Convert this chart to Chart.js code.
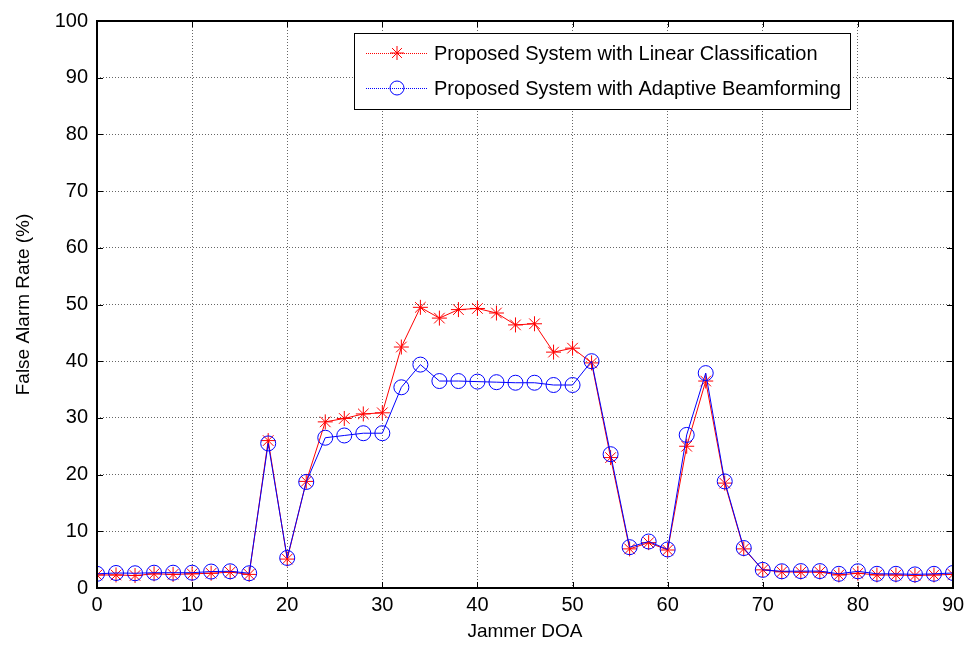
<!DOCTYPE html>
<html>
<head>
<meta charset="utf-8">
<script src="https://cdn.jsdelivr.net/npm/chart.js@4.4.1/dist/chart.umd.min.js"></script>
<style>
  html, body { margin: 0; padding: 0; background: #fff; }
  #wrap { width: 973px; height: 653px; }
</style>
</head>
<body>
<div id="wrap"><canvas id="chart" width="973" height="653"></canvas></div>
<script>
// 재밍 방향별 오경보율
const doa = [0, 2, 4, 6, 8, 10, 12, 14, 16, 18, 20, 22, 24, 26, 28, 30, 32, 34, 36, 38, 40, 42, 44,
  46, 48, 50, 52, 54, 56, 58, 60, 62, 64, 66, 68, 70, 72, 74, 76, 78, 80, 82, 84, 86, 88, 90];

const linearCls = [2.3, 2.3, 2.2, 2.5, 2.4, 2.5, 2.6, 2.8, 2.4, 26.0, 5.1, 18.8, 29.3, 29.9, 30.7, 30.9,
  42.5, 49.5, 47.6, 49.1, 49.3, 48.5, 46.4, 46.6, 41.6, 42.3, 39.7, 23.0, 6.9, 8.0, 6.7, 25.0, 36.5,
  18.5, 6.9, 3.2, 2.85, 2.8, 2.8, 2.3, 2.6, 2.3, 2.3, 2.2, 2.3, 2.4];

const adaptiveBf = [2.5, 2.65, 2.6, 2.7, 2.7, 2.7, 2.9, 2.95, 2.6, 25.5, 5.3, 18.7, 26.5, 26.9, 27.3, 27.3,
  35.4, 39.4, 36.5, 36.5, 36.4, 36.3, 36.2, 36.2, 35.8, 35.8, 40.0, 23.6, 7.2, 8.2, 6.8, 27.0, 37.9,
  18.8, 7.05, 3.2, 2.95, 2.98, 2.98, 2.5, 2.95, 2.5, 2.5, 2.4, 2.5, 2.65];

const xTicks = [0, 10, 20, 30, 40, 50, 60, 70, 80, 90];
const yTicks = [0, 10, 20, 30, 40, 50, 60, 70, 80, 90, 100];

const seriesNames = ['Proposed System with Linear Classification', 'Proposed System with Adaptive Beamforming'];

const FONT = "'Liberation Sans', Arial, sans-serif";
Chart.defaults.font.family = FONT;
Chart.defaults.color = '#000';

const toPoints = (vals) => vals.map((v, i) => ({ x: doa[i], y: v }));

// 테두리 + 안쪽 눈금 + 범례
const framePlugin = {
  id: 'frame',
  afterDraw(chart) {
    const { ctx, chartArea: a, scales } = chart;
    ctx.save();
    ctx.strokeStyle = '#000';
    ctx.lineWidth = 1;
    ctx.beginPath();
    xTicks.forEach((t) => {
      const px = Math.round(scales.x.getPixelForValue(t)) + 0.5;
      ctx.moveTo(px, a.bottom); ctx.lineTo(px, a.bottom - 6);
      ctx.moveTo(px, a.top); ctx.lineTo(px, a.top + 6);
    });
    yTicks.forEach((t) => {
      const py = Math.round(scales.y.getPixelForValue(t)) + 0.5;
      ctx.moveTo(a.left, py); ctx.lineTo(a.left + 6, py);
      ctx.moveTo(a.right, py); ctx.lineTo(a.right - 6, py);
    });
    ctx.stroke();
    ctx.lineWidth = 2;
    ctx.strokeRect(a.left, a.top, a.right - a.left, a.bottom - a.top);

    // 범례
    const bx = 354, by = 33, bw = 496, bh = 76;
    ctx.fillStyle = '#fff';
    ctx.fillRect(bx, by, bw, bh);
    ctx.lineWidth = 1;
    ctx.strokeRect(bx + 0.5, by + 0.5, bw, bh);
    const rows = [
      { y: 53, color: '#ff0000', style: 'star' },
      { y: 88, color: '#0000ff', style: 'circle' },
    ];
    ctx.font = '20px ' + FONT;
    ctx.textBaseline = 'middle';
    rows.forEach((r, i) => {
      ctx.strokeStyle = r.color;
      ctx.lineWidth = 1;
      ctx.setLineDash([1, 1]);
      ctx.beginPath();
      ctx.moveTo(366, r.y + 0.5); ctx.lineTo(427, r.y + 0.5);
      ctx.stroke();
      ctx.setLineDash([]);
      ctx.fillStyle = 'rgba(0,0,0,0)';
      Chart.helpers.drawPoint(ctx, { pointStyle: r.style, radius: 7, borderWidth: 1 }, 397, r.y);
      ctx.fillStyle = '#000';
      ctx.fillText(seriesNames[i], 434, r.y + 1);
    });
    ctx.restore();
  },
};

new Chart(document.getElementById('chart'), {
  type: 'line',
  data: {
    datasets: [
      {
        label: seriesNames[0],
        data: toPoints(linearCls),
        borderColor: '#ff0000',
        backgroundColor: 'transparent',
        borderWidth: 1,
        pointStyle: 'star',
        pointRadius: 7.5,
        pointBorderWidth: 1,
        pointBorderColor: '#ff0000',
        tension: 0,
        order: 1,
      },
      {
        label: seriesNames[1],
        data: toPoints(adaptiveBf),
        borderColor: '#0000ff',
        backgroundColor: 'transparent',
        borderWidth: 1,
        pointStyle: 'circle',
        pointRadius: 7.5,
        pointBorderWidth: 1,
        pointBorderColor: '#0000ff',
        tension: 0,
        order: 0,
      },
    ],
  },
  options: {
    responsive: false,
    animation: false,
    layout: { padding: { top: 18, right: 20, left: 0, bottom: 0 } },
    plugins: { legend: { display: false }, tooltip: { enabled: false } },
    scales: {
      x: {
        type: 'linear',
        min: 0,
        max: 90,
        afterBuildTicks: (s) => { s.ticks = xTicks.map((v) => ({ value: v })); },
        afterFit: (s) => { s.height = 65; },
        ticks: { font: { size: 20 }, padding: 5, maxRotation: 0 },
        grid: { color: '#666', drawTicks: false },
        border: { display: false, dash: [1, 2] },
        title: { display: true, text: 'Jammer DOA', font: { size: 19 }, padding: { top: 0, bottom: 10 } },
      },
      y: {
        min: 0,
        max: 100,
        afterBuildTicks: (s) => { s.ticks = yTicks.map((v) => ({ value: v })); },
        afterFit: (s) => { s.width = 97; },
        ticks: { font: { size: 20 }, padding: 9 },
        grid: { color: '#666', drawTicks: false },
        border: { display: false, dash: [1, 2] },
        title: { display: true, text: 'False Alarm Rate (%)', font: { size: 19 }, padding: { top: 12, bottom: 0 } },
      },
    },
  },
  plugins: [framePlugin],
});
</script>
</body>
</html>
